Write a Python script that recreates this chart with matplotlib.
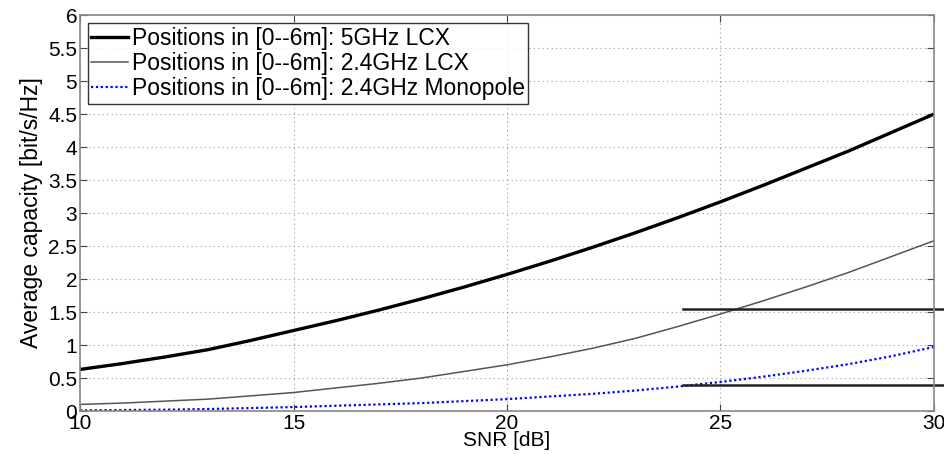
import matplotlib
matplotlib.use("Agg")
import matplotlib.pyplot as plt
import numpy as np

snr = [10, 11, 12, 13, 14, 15, 16, 17, 18, 19, 20, 21, 22, 23, 24, 25, 26, 27, 28, 29, 30]
cap_5g_lcx = [0.63, 0.72, 0.82, 0.93, 1.07, 1.22, 1.37, 1.53, 1.70, 1.88, 2.07, 2.27, 2.48,
              2.70, 2.93, 3.17, 3.42, 3.68, 3.94, 4.22, 4.50]
cap_24g_lcx = [0.10, 0.12, 0.15, 0.18, 0.23, 0.28, 0.35, 0.42, 0.50, 0.60, 0.70, 0.82, 0.95,
               1.10, 1.28, 1.47, 1.67, 1.88, 2.10, 2.34, 2.58]
cap_24g_mono = [0.01, 0.015, 0.02, 0.03, 0.045, 0.06, 0.08, 0.10, 0.12, 0.15, 0.18, 0.22, 0.26,
                0.31, 0.37, 0.44, 0.52, 0.61, 0.71, 0.83, 0.97]
labels = ["Positions in [0--6m]: 5GHz LCX",
          "Positions in [0--6m]: 2.4GHz LCX",
          "Positions in [0--6m]: 2.4GHz Monopole"]
ref_levels = [1.55, 0.40]
ref_x = [24.12, 30.3]

plt.rcParams['font.family'] = ['Liberation Sans', 'DejaVu Sans']

fig = plt.figure(figsize=(9.45, 4.54), dpi=100)
ax = fig.add_axes([0.0847, 0.0947, 0.9036, 0.872])

ax.plot(snr, cap_5g_lcx, color='black', lw=2.4, label=labels[0])
ax.plot(snr, cap_24g_lcx, color='#555555', lw=1.1, label=labels[1])
ax.plot(snr, cap_24g_mono, color='blue', lw=1.6, ls=(0, (1, 1.2)), label=labels[2])

for lvl in ref_levels:
    ax.plot(ref_x, [lvl, lvl], color='#222222', lw=1.8, clip_on=False)

ax.set_xlim(10, 30)
ax.set_ylim(0, 6)
ax.set_xticks([10, 15, 20, 25, 30])
ax.set_yticks(np.arange(0, 6.01, 0.5))
ax.set_yticklabels(['0', '0.5', '1', '1.5', '2', '2.5', '3', '3.5', '4', '4.5', '5', '5.5', '6'])
ax.grid(True, ls=(0, (1, 3)), color='#999999', lw=0.8)
ax.tick_params(direction='in', top=True, right=True, labelsize=15, length=5, color='#444444', pad=2)
for s in ax.spines.values():
    s.set_color('#888888')
    s.set_linewidth(1.2)

ax.set_xlabel('SNR [dB]', fontsize=15, labelpad=-1)
ax.set_ylabel('Average capacity [bit/s/Hz]', fontsize=16.5, labelpad=4)

leg = ax.legend(loc='upper left', fontsize=16.5, frameon=True, fancybox=False,
                edgecolor='black', handlelength=1.6, handletextpad=0.15,
                borderaxespad=0.35, borderpad=0.15, labelspacing=0.1)
leg.get_frame().set_linewidth(1.0)

fig.savefig('out.png', dpi=100)
